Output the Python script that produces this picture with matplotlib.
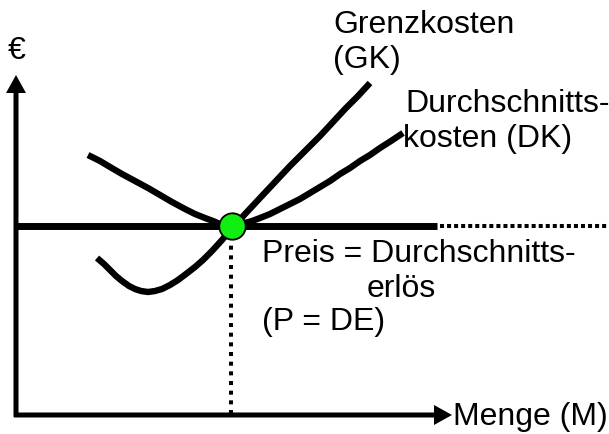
import matplotlib.pyplot as plt

# ---- Daten (in Bildpunkten des Originals) ----
gk_x = [97, 104, 110, 116, 122, 129, 135, 141, 148, 155, 162, 170, 178, 186, 195,
        203, 212, 222, 232, 246, 260, 275, 290, 305, 320, 333, 345, 358, 370]
gk_y = [258, 264, 270, 276, 281, 286, 289, 291, 292, 291, 289, 285, 280, 274, 267,
        260, 251, 240, 228, 213, 198, 182, 166, 151, 136, 122, 109, 96, 83]

dk_x = [88, 100, 110, 122, 135, 148, 160, 172, 185, 195, 205, 213, 220, 226, 232,
        238, 245, 252, 260, 270, 280, 290, 300, 310, 320, 330, 340, 350, 360, 370,
        380, 391, 403]
dk_y = [155, 161, 167, 174, 181, 188, 195, 202, 209, 214, 218, 221, 224, 226, 227,
        225, 223, 221, 218, 214, 209, 204, 199, 193, 187, 181, 174, 168, 161, 155,
        148, 141, 133]

preis = 226          # Preis = Durchschnittserloes
menge_opt = 231      # Schnittpunkt
preis_ende = 437     # ab hier gepunktet

labels = ["Grenzkosten", "(GK)", "Durchschnitts-", "kosten (DK)",
          "Preis = Durchschnitts-", "erlös", "(P = DE)", "Menge (M)", "€"]

# ---- Bild ----
fig = plt.figure(figsize=(6.09, 4.34), dpi=100)
ax = fig.add_axes([0, 0, 1, 1])
ax.set_xlim(0, 609)
ax.set_ylim(434, 0)
ax.axis('off')

# Achsen mit Pfeilen
ax.arrow(16, 417, 0, 75 - 417, width=5, head_width=20,
         head_length=18, length_includes_head=True, color='black', lw=0)
ax.arrow(14, 415, 452 - 14, 0, width=5, head_width=20,
         head_length=18, length_includes_head=True, color='black', lw=0)

# Preislinie
ax.plot([14, preis_ende], [preis, preis], color='black', lw=5, solid_capstyle='butt')
ax.plot([preis_ende + 3, 609], [preis, preis], color='black', lw=2.9,
        linestyle=(0, (1, 0.75)), dash_capstyle='butt')

# gepunktete Senkrechte
ax.plot([menge_opt, menge_opt], [236, 413], color='black', lw=2.9,
        linestyle=(0, (1, 1.4)), dash_capstyle='butt')

# Kurven
ax.plot(dk_x, dk_y, color='black', lw=4.6, solid_joinstyle='round', solid_capstyle='butt')
ax.plot(gk_x, gk_y, color='black', lw=4.6, solid_joinstyle='round', solid_capstyle='butt')

# Schnittpunkt
ax.plot([232], [preis], marker='o', ms=19, mfc='#11ee11', mec='black', mew=1.3)

# Texte
font = dict(family='Liberation Sans', fontsize=23, va='baseline', ha='left')
ax.text(333, 33, labels[0], **font)
ax.text(333, 68, labels[1], **font)
ax.text(405, 112, labels[2], **font)
ax.text(403, 147, labels[3], **font)
ax.text(262, 262, labels[4], **font)
ax.text(367, 297, labels[5], **font)
ax.text(262, 330, labels[6], **font)
ax.text(453, 425, labels[7], **font)
ax.text(8, 59, labels[8], **font)

fig.savefig('out.png', dpi=100)
